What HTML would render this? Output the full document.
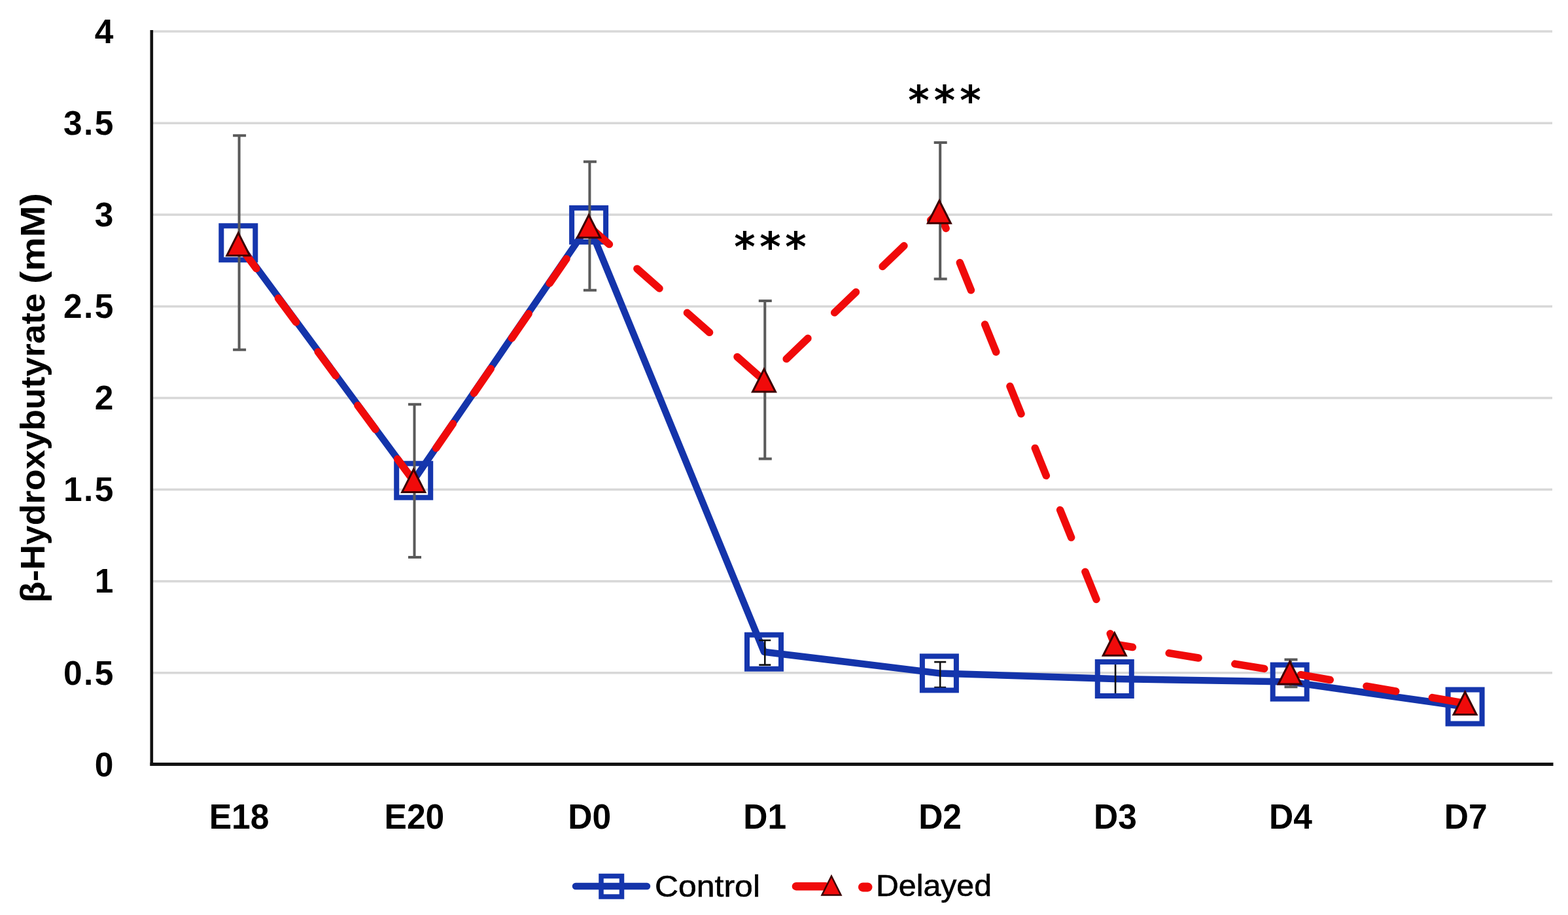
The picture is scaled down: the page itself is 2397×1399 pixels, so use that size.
<!DOCTYPE html><html><head><meta charset="utf-8"><style>html,body{margin:0;padding:0;background:#fff;overflow:hidden}svg{display:block}</style></head><body>
<svg width="2397" height="1399" viewBox="0 0 2397 1399">
<rect width="2397" height="1399" fill="#fff"/>
<line x1="233" y1="1028.8" x2="2373" y2="1028.8" stroke="#d8d8d8" stroke-width="3.5"/>
<line x1="233" y1="888.7" x2="2373" y2="888.7" stroke="#d8d8d8" stroke-width="3.5"/>
<line x1="233" y1="748.6" x2="2373" y2="748.6" stroke="#d8d8d8" stroke-width="3.5"/>
<line x1="233" y1="608.5" x2="2373" y2="608.5" stroke="#d8d8d8" stroke-width="3.5"/>
<line x1="233" y1="468.4" x2="2373" y2="468.4" stroke="#d8d8d8" stroke-width="3.5"/>
<line x1="233" y1="328.3" x2="2373" y2="328.3" stroke="#d8d8d8" stroke-width="3.5"/>
<line x1="233" y1="188.2" x2="2373" y2="188.2" stroke="#d8d8d8" stroke-width="3.5"/>
<line x1="233" y1="48.1" x2="2373" y2="48.1" stroke="#d8d8d8" stroke-width="3.5"/>
<line x1="231.8" y1="46" x2="231.8" y2="1171" stroke="#111" stroke-width="4.6"/>
<line x1="229.5" y1="1168.6" x2="2374.5" y2="1168.6" stroke="#111" stroke-width="5"/>
<text x="173.5" y="1186.6" text-anchor="end" font-family="Liberation Sans, sans-serif" font-weight="bold" font-size="51.5" letter-spacing="0" fill="#000">0</text>
<text x="176.0" y="1046.5" text-anchor="end" font-family="Liberation Sans, sans-serif" font-weight="bold" font-size="51.5" letter-spacing="2.5" fill="#000">0.5</text>
<text x="173.5" y="906.4" text-anchor="end" font-family="Liberation Sans, sans-serif" font-weight="bold" font-size="51.5" letter-spacing="0" fill="#000">1</text>
<text x="176.0" y="766.3" text-anchor="end" font-family="Liberation Sans, sans-serif" font-weight="bold" font-size="51.5" letter-spacing="2.5" fill="#000">1.5</text>
<text x="173.5" y="626.2" text-anchor="end" font-family="Liberation Sans, sans-serif" font-weight="bold" font-size="51.5" letter-spacing="0" fill="#000">2</text>
<text x="176.0" y="486.1" text-anchor="end" font-family="Liberation Sans, sans-serif" font-weight="bold" font-size="51.5" letter-spacing="2.5" fill="#000">2.5</text>
<text x="173.5" y="346.0" text-anchor="end" font-family="Liberation Sans, sans-serif" font-weight="bold" font-size="51.5" letter-spacing="0" fill="#000">3</text>
<text x="176.0" y="205.9" text-anchor="end" font-family="Liberation Sans, sans-serif" font-weight="bold" font-size="51.5" letter-spacing="2.5" fill="#000">3.5</text>
<text x="173.5" y="65.8" text-anchor="end" font-family="Liberation Sans, sans-serif" font-weight="bold" font-size="51.5" letter-spacing="0" fill="#000">4</text>
<text transform="translate(68,921.5) rotate(-90)" font-family="Liberation Sans, sans-serif" font-weight="bold" font-size="52.5" fill="#000"><tspan textLength="473" lengthAdjust="spacingAndGlyphs">β-Hydroxybutyrate</tspan> <tspan x="487.5" textLength="139" lengthAdjust="spacingAndGlyphs">(mM)</tspan></text>
<text x="365.5" y="1266.8" text-anchor="middle" font-family="Liberation Sans, sans-serif" font-weight="bold" font-size="54" fill="#000" transform="translate(365.5,0) scale(0.955,1) translate(-365.5,0)">E18</text>
<text x="633.4" y="1266.8" text-anchor="middle" font-family="Liberation Sans, sans-serif" font-weight="bold" font-size="54" fill="#000" transform="translate(633.4,0) scale(0.955,1) translate(-633.4,0)">E20</text>
<text x="901.3" y="1266.8" text-anchor="middle" font-family="Liberation Sans, sans-serif" font-weight="bold" font-size="54" fill="#000" transform="translate(901.3,0) scale(0.955,1) translate(-901.3,0)">D0</text>
<text x="1169.2" y="1266.8" text-anchor="middle" font-family="Liberation Sans, sans-serif" font-weight="bold" font-size="54" fill="#000" transform="translate(1169.2,0) scale(0.955,1) translate(-1169.2,0)">D1</text>
<text x="1437.1" y="1266.8" text-anchor="middle" font-family="Liberation Sans, sans-serif" font-weight="bold" font-size="54" fill="#000" transform="translate(1437.1,0) scale(0.955,1) translate(-1437.1,0)">D2</text>
<text x="1705.0" y="1266.8" text-anchor="middle" font-family="Liberation Sans, sans-serif" font-weight="bold" font-size="54" fill="#000" transform="translate(1705.0,0) scale(0.955,1) translate(-1705.0,0)">D3</text>
<text x="1972.9" y="1266.8" text-anchor="middle" font-family="Liberation Sans, sans-serif" font-weight="bold" font-size="54" fill="#000" transform="translate(1972.9,0) scale(0.955,1) translate(-1972.9,0)">D4</text>
<text x="2240.8" y="1266.8" text-anchor="middle" font-family="Liberation Sans, sans-serif" font-weight="bold" font-size="54" fill="#000" transform="translate(2240.8,0) scale(0.955,1) translate(-2240.8,0)">D7</text>
<polyline points="364.3,371.3 632.2,734.7 900.1,343.9 1168.0,996.7 1435.9,1029.4 1703.8,1038.0 1971.7,1042.6 2239.6,1080.5" fill="none" stroke="#1434aa" stroke-width="10.5" stroke-linejoin="round" stroke-linecap="round"/>
<path d="M1169.3,979V1016.6M1160.3,979H1178.3M1160.3,1016.6H1178.3" stroke="#111" stroke-width="2.6" fill="none"/>
<path d="M1437.2,1012.1V1051.1M1428.2,1012.1H1446.2M1428.2,1051.1H1446.2" stroke="#111" stroke-width="2.6" fill="none"/>
<path d="M1705.1,1012V1064M1696.1,1012H1714.1M1696.1,1064H1714.1" stroke="#111" stroke-width="2.6" fill="none"/>
<rect x="338.3" y="345.3" width="52" height="52" fill="none" stroke="#1536ad" stroke-width="8"/>
<rect x="606.2" y="708.7" width="52" height="52" fill="none" stroke="#1536ad" stroke-width="8"/>
<rect x="874.1" y="317.9" width="52" height="52" fill="none" stroke="#1536ad" stroke-width="8"/>
<rect x="1142.0" y="970.7" width="52" height="52" fill="none" stroke="#1536ad" stroke-width="8"/>
<rect x="1409.9" y="1003.4" width="52" height="52" fill="none" stroke="#1536ad" stroke-width="8"/>
<rect x="1677.8" y="1012.0" width="52" height="52" fill="none" stroke="#1536ad" stroke-width="8"/>
<rect x="1945.7" y="1016.6" width="52" height="52" fill="none" stroke="#1536ad" stroke-width="8"/>
<rect x="2213.6" y="1054.5" width="52" height="52" fill="none" stroke="#1536ad" stroke-width="8"/>
<polyline points="364.3,373.4 632.2,735.1 900.1,346.0 1168.0,581.7 1435.9,324.0 1703.8,985.0 1971.7,1028.8 2239.6,1075.3" fill="none" stroke="#f00a0a" stroke-width="11.5" stroke-linejoin="round" stroke-linecap="round" stroke-dasharray="45.5 56.5" stroke-dashoffset="-0.75"/>
<path d="M365.6,207.2V534.7M356.1,207.2H376.1M356.1,534.7H376.1" stroke="#5a5a5a" stroke-width="4" fill="none"/>
<path d="M633.5,618.3V851.9M624.0,618.3H644.0M624.0,851.9H644.0" stroke="#5a5a5a" stroke-width="4" fill="none"/>
<path d="M901.4,247.3V443.8M891.9,247.3H911.9M891.9,443.8H911.9" stroke="#5a5a5a" stroke-width="4" fill="none"/>
<path d="M1169.3,460V701.4M1159.8,460H1179.8M1159.8,701.4H1179.8" stroke="#5a5a5a" stroke-width="4" fill="none"/>
<path d="M1437.2,217.9V426.6M1427.7,217.9H1447.7M1427.7,426.6H1447.7" stroke="#5a5a5a" stroke-width="4" fill="none"/>
<path d="M1973.0,1008.6V1050.3M1963.5,1008.6H1983.5M1963.5,1050.3H1983.5" stroke="#5a5a5a" stroke-width="4" fill="none"/>
<path d="M364.3,356.1L381.8,390.7L346.8,390.7Z" fill="#f00a0a" stroke="#3c0000" stroke-width="3" stroke-linejoin="miter"/>
<path d="M632.2,717.8L649.7,752.4L614.7,752.4Z" fill="#f00a0a" stroke="#3c0000" stroke-width="3" stroke-linejoin="miter"/>
<path d="M900.1,328.7L917.6,363.3L882.6,363.3Z" fill="#f00a0a" stroke="#3c0000" stroke-width="3" stroke-linejoin="miter"/>
<path d="M1168.0,564.4L1185.5,599.0L1150.5,599.0Z" fill="#f00a0a" stroke="#3c0000" stroke-width="3" stroke-linejoin="miter"/>
<path d="M1435.9,306.7L1453.4,341.3L1418.4,341.3Z" fill="#f00a0a" stroke="#3c0000" stroke-width="3" stroke-linejoin="miter"/>
<path d="M1703.8,967.7L1721.3,1002.3L1686.3,1002.3Z" fill="#f00a0a" stroke="#3c0000" stroke-width="3" stroke-linejoin="miter"/>
<path d="M1971.7,1011.5L1989.2,1046.1L1954.2,1046.1Z" fill="#f00a0a" stroke="#3c0000" stroke-width="3" stroke-linejoin="miter"/>
<path d="M2239.6,1058.0L2257.1,1092.6L2222.1,1092.6Z" fill="#f00a0a" stroke="#3c0000" stroke-width="3" stroke-linejoin="miter"/>
<text x="1122.3" y="399" font-family="DejaVu Sans, sans-serif" font-weight="bold" font-size="62" letter-spacing="6.55" fill="#000">***</text>
<text x="1388.3" y="175" font-family="DejaVu Sans, sans-serif" font-weight="bold" font-size="62" letter-spacing="7.1" fill="#000">***</text>
<line x1="880" y1="1355" x2="989" y2="1355" stroke="#1434aa" stroke-width="10.5" stroke-linecap="round"/>
<rect x="919" y="1339.5" width="31.5" height="31.5" fill="none" stroke="#1536ad" stroke-width="7.5"/>
<text x="1001" y="1370.5" font-family="Liberation Sans, sans-serif" font-size="45.5" fill="#000" stroke="#000" stroke-width="0.6" textLength="161" lengthAdjust="spacingAndGlyphs">Control</text>
<line x1="1217" y1="1355.2" x2="1262" y2="1355.2" stroke="#f00a0a" stroke-width="12.5" stroke-linecap="round"/>
<path d="M1271,1339.5L1285.5,1368.5L1256.5,1368.5Z" fill="#f00a0a" stroke="#3c0000" stroke-width="2.5"/>
<line x1="1319" y1="1356.4" x2="1326.5" y2="1356.4" stroke="#f00a0a" stroke-width="14" stroke-linecap="round"/>
<text x="1339" y="1370" font-family="Liberation Sans, sans-serif" font-size="45.5" fill="#000" stroke="#000" stroke-width="0.6" textLength="177" lengthAdjust="spacingAndGlyphs">Delayed</text>
</svg></body></html>
